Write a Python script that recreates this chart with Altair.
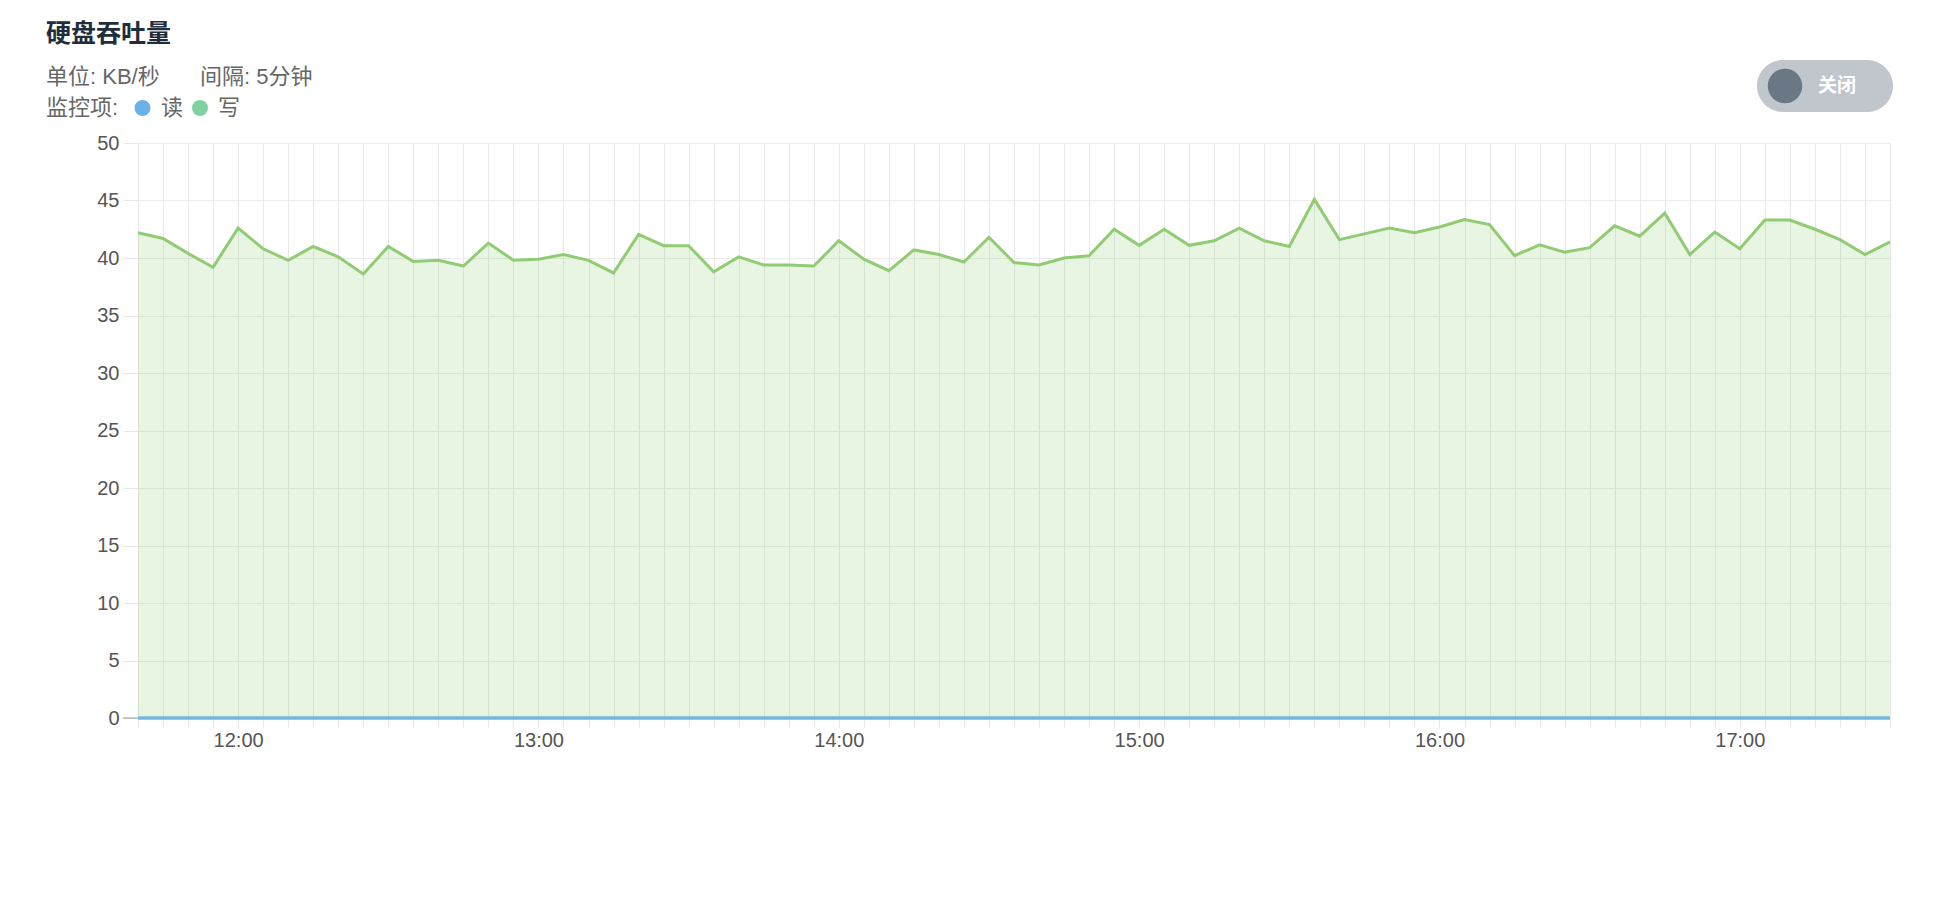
import altair as alt
import pandas as pd

# ---------------- data ----------------
title_text = "硬盘吞吐量"
unit_text = "单位: KB/秒"
interval_text = "间隔: 5分钟"
legend_label = "监控项:"
series_names = ["读", "写"]
line_colors = ["#73b8de", "#91cc75"]
legend_dot_colors = ["#6db1e9", "#7fd29f"]
toggle_text = "关闭"

start_hour, start_minute, step_minutes, n_points = 11, 40, 5, 71
time_parts = [divmod(start_hour * 60 + start_minute + i * step_minutes, 60) for i in range(n_points)]
times = [f"2024-01-01T{h:02d}:{m:02d}:00" for h, m in time_parts]

write_values = [
    42.2, 41.7, 40.4, 39.2, 42.6, 40.8, 39.8, 41.0, 40.1, 38.6,
    41.0, 39.7, 39.8, 39.3, 41.3, 39.8, 39.9, 40.3, 39.8, 38.7,
    42.05, 41.07, 41.07, 38.8, 40.1, 39.4, 39.4, 39.3, 41.5, 39.9,
    38.9, 40.7, 40.3, 39.65, 41.8, 39.6, 39.4, 40.0, 40.2, 42.5,
    41.1, 42.5, 41.1, 41.5, 42.6, 41.5, 41.0, 45.1, 41.6, 42.1,
    42.6, 42.2, 42.7, 43.35, 42.9, 40.2, 41.15, 40.5, 40.9, 42.8,
    41.9, 43.9, 40.3, 42.25, 40.8, 43.3, 43.3, 42.5, 41.6, 40.3,
    41.4,
]
read_values = [
    0.0, 0.0, 0.0, 0.0, 0.0, 0.0, 0.0, 0.0, 0.0, 0.0,
    0.0, 0.0, 0.0, 0.0, 0.0, 0.0, 0.0, 0.0, 0.0, 0.0,
    0.0, 0.0, 0.0, 0.0, 0.0, 0.0, 0.0, 0.0, 0.0, 0.0,
    0.0, 0.0, 0.0, 0.0, 0.0, 0.0, 0.0, 0.0, 0.0, 0.0,
    0.0, 0.0, 0.0, 0.0, 0.0, 0.0, 0.0, 0.0, 0.0, 0.0,
    0.0, 0.0, 0.0, 0.0, 0.0, 0.0, 0.0, 0.0, 0.0, 0.0,
    0.0, 0.0, 0.0, 0.0, 0.0, 0.0, 0.0, 0.0, 0.0, 0.0,
    0.0,
]
y_ticks = [0, 5, 10, 15, 20, 25, 30, 35, 40, 45, 50]

df = pd.DataFrame({"time": times, "read": read_values, "write": write_values})

# ---------------- encodings ----------------
x_tick_values = [alt.DateTime(year=2024, month=1, date=1, hours=h, minutes=m) for h, m in time_parts]

x_enc = alt.X(
    "time:T",
    title=None,
    scale=alt.Scale(nice=False),
    axis=alt.Axis(
        values=x_tick_values,
        labelExpr="minutes(datum.value) == 0 ? timeFormat(datum.value, '%H:%M') : ''",
        grid=True,
        gridColor="#e8e8e8",
        gridWidth=1,
        ticks=True,
        tickColor="#e8e8e8",
        tickSize=10,
        domain=True,
        domainColor="#cccccc",
        labelFont="Liberation Sans",
        labelFontSize=20,
        labelColor="#555555",
        labelPadding=2,
        labelOverlap=False,
        labelFlush=False,
    ),
)

y_scale = alt.Scale(domain=[0, 50], nice=False)
y_axis = alt.Axis(
    values=y_ticks,
    grid=True,
    gridColor="#ececec",
    gridWidth=1,
    domain=False,
    ticks=True,
    tickSize=15,
    tickColor="#e6e6e6",
    labelFont="Liberation Sans",
    labelFontSize=20,
    labelColor="#555555",
    labelPadding=4,
)


def y_enc(field):
    return alt.Y(f"{field}:Q", title=None, scale=y_scale, axis=y_axis)


base = alt.Chart(df)

write_area = base.mark_area(color=line_colors[1], opacity=0.2).encode(x=x_enc, y=y_enc("write"))
write_line = base.mark_line(color=line_colors[1], strokeWidth=3).encode(x=x_enc, y=y_enc("write"))
read_area = base.mark_area(color=line_colors[0], opacity=0.2).encode(x=x_enc, y=y_enc("read"))
read_line = base.mark_line(color=line_colors[0], strokeWidth=3.5).encode(x=x_enc, y=y_enc("read"))

# dark tick at zero on the y axis
zero_tick = alt.Chart(pd.DataFrame({"v": [0]})).mark_rule(color="#999999", strokeWidth=1).encode(
    x=alt.value(-15), x2=alt.value(0), y=alt.Y("v:Q", scale=y_scale, axis=y_axis)
)

cjk_font = "Liberation Sans, Noto Sans CJK SC"


# ---------------- header decorations ----------------
def text_layer(txt, px, py, size, color, weight="normal", align="left", font=cjk_font):
    return alt.Chart(pd.DataFrame({"t": [txt]})).mark_text(
        align=align, baseline="middle", font=font,
        fontSize=size, fontWeight=weight, color=color,
    ).encode(x=alt.value(px), y=alt.value(py), text="t:N")


def dot_layer(px, py, size, color):
    return alt.Chart(pd.DataFrame({"t": [0]})).mark_circle(
        size=size, color=color, opacity=1
    ).encode(x=alt.value(px), y=alt.value(py))


title_layer = text_layer(title_text, -92, -109, 25, "#1f2d3d", weight="bold", font="Noto Sans CJK SC")
unit_layer = text_layer(unit_text, -92, -66, 22, "#666666")
interval_layer = text_layer(interval_text, 62, -66, 22, "#666666")
legend_label_layer = text_layer(legend_label, -92, -35, 22, "#666666")
dot_read = dot_layer(4.5, -35, 254, legend_dot_colors[0])
label_read = text_layer(series_names[0], 23, -35, 22, "#666666")
dot_write = dot_layer(62, -35, 254, legend_dot_colors[1])
label_write = text_layer(series_names[1], 80, -35, 22, "#666666")

pill = alt.Chart(pd.DataFrame({"t": [0]})).mark_rect(
    color="#c0c6cc", cornerRadius=26
).encode(x=alt.value(1619), x2=alt.value(1755), y=alt.value(-83), y2=alt.value(-31))
knob = dot_layer(1647, -57, 1195, "#6a7784")
toggle_label = text_layer(toggle_text, 1699, -57, 19, "#ffffff", weight="bold", align="center",
                          font="Noto Sans CJK SC")

chart = alt.layer(
    write_area, write_line, read_area, zero_tick, read_line,
    title_layer, unit_layer, interval_layer, legend_label_layer,
    dot_read, label_read, dot_write, label_write,
    pill, knob, toggle_label,
).properties(
    width=1752,
    height=575,
    autosize=alt.AutoSizeParams(type="none"),
    padding={"left": 130, "top": 135, "right": 38, "bottom": 164},
    background="#ffffff",
).configure_view(stroke=None)

chart.save("out.html", embed_options={"renderer": "svg", "actions": False})
